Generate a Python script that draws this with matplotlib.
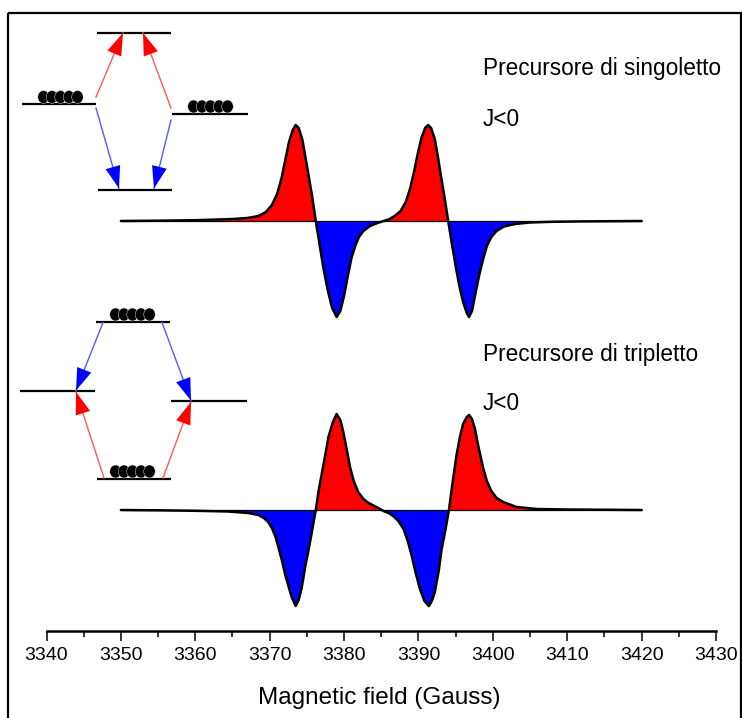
import matplotlib
matplotlib.use('Agg')
import matplotlib.pyplot as plt
from matplotlib.patches import Ellipse, Rectangle

plt.rcParams['font.family'] = ['Liberation Sans', 'DejaVu Sans']

W, H, DPI = 742, 718, 100

# ---------------- data (intensity in arbitrary units) -------------
field_top = [3350.0, 3355.0, 3360.0, 3363.0, 3365.0, 3367.0, 3368.5, 3369.5, 3370.3, 3371.0,
             3371.6, 3372.1, 3372.6, 3373.1, 3373.5, 3373.9, 3374.4, 3374.8, 3375.2, 3375.7,
             3376.2, 3376.7, 3377.2, 3377.8, 3378.4, 3379.0, 3379.5, 3380.0, 3380.5, 3381.0,
             3381.5, 3382.0, 3382.6, 3383.5, 3384.5, 3385.3, 3386.0, 3386.8, 3387.6, 3388.3,
             3388.9, 3389.4, 3389.9, 3390.4, 3390.9, 3391.3, 3391.7, 3392.2, 3392.6, 3393.0,
             3393.5, 3394.0, 3394.5, 3395.0, 3395.5, 3396.0, 3396.5, 3396.8, 3397.2, 3397.7,
             3398.2, 3398.7, 3399.2, 3399.8, 3400.5, 3401.5, 3403.0, 3405.0, 3408.0, 3412.0,
             3420.0]
int_top = [0.0, 0.3, 0.8, 1.5, 2.0, 3.0, 5.0, 9.0, 16.0, 27.0,
           43.0, 61.0, 79.0, 91.0, 96.0, 93.0, 81.0, 64.0, 47.0, 25.0,
           0.0, -23.0, -46.0, -69.0, -87.0, -96.0, -90.0, -75.0, -55.0, -37.0,
           -25.0, -16.0, -10.0, -5.0, -2.0, 0.0, 1.5, 5.0, 10.0, 19.0,
           33.0, 49.0, 67.0, 83.0, 93.0, 96.0, 93.0, 82.0, 65.0, 46.0,
           24.0, 0.0, -23.0, -45.0, -65.0, -81.0, -92.0, -96.0, -90.0, -71.0,
           -53.0, -38.0, -25.0, -16.0, -10.0, -5.5, -3.0, -1.5, -0.8, -0.4,
           0.0]

field_bot = [3350.0, 3355.0, 3360.0, 3364.4, 3367.1, 3368.5, 3369.2, 3369.8, 3370.3, 3370.8,
             3371.2, 3371.7, 3372.1, 3372.6, 3373.0, 3373.5, 3373.9, 3374.3, 3374.8, 3375.2,
             3375.5, 3376.2, 3376.6, 3377.0, 3377.5, 3377.9, 3378.5, 3379.0, 3379.5, 3379.9,
             3380.4, 3380.8, 3381.3, 3381.9, 3382.6, 3383.3, 3384.6, 3385.3, 3386.0, 3386.6,
             3387.3, 3388.0, 3388.6, 3389.1, 3389.6, 3390.2, 3390.8, 3391.4, 3391.8, 3392.2,
             3392.7, 3393.1, 3393.6, 3394.1, 3394.6, 3395.1, 3395.6, 3396.0, 3396.5, 3396.8,
             3397.2, 3397.6, 3398.1, 3398.7, 3399.2, 3399.8, 3400.5, 3401.4, 3403.2, 3405.9,
             3410.0, 3420.0]
int_bot = [0.0, -0.3, -0.8, -1.5, -3.0, -5.0, -8.0, -12.0, -18.0, -27.0,
           -38.0, -52.0, -65.0, -78.0, -88.0, -96.0, -90.0, -78.0, -56.0, -41.0,
           -29.0, 0.0, 20.0, 36.0, 56.0, 73.0, 88.0, 96.0, 90.0, 78.0,
           59.0, 43.0, 29.0, 18.0, 11.0, 7.0, 2.0, -1.0, -3.0, -6.0,
           -11.0, -19.0, -32.0, -46.0, -62.0, -79.0, -91.0, -96.0, -91.0, -82.0,
           -62.0, -40.0, -21.0, 0.0, 28.0, 54.0, 74.0, 86.0, 93.0, 95.0,
           91.0, 81.0, 62.0, 42.0, 29.0, 19.0, 12.0, 8.0, 3.0, 1.0,
           0.5, 0.0]

x_ticks = [3340, 3350, 3360, 3370, 3380, 3390, 3400, 3410, 3420, 3430]
x_minor = [3345, 3355, 3365, 3375, 3385, 3395, 3405, 3415, 3425]
x_label = "Magnetic field (Gauss)"
labels_top = ["Precursore di singoletto", "J<0"]
labels_bot = ["Precursore di tripletto", "J<0"]

# ---------------- schematic level diagrams (pixel coordinates of the picture) ----------
# levels: (x_start, x_end, y)
levels_singlet = [(97, 171, 33), (22, 96, 103.5), (172, 248, 113.5), (98, 172, 189.5)]
levels_triplet = [(96, 170, 321.5), (20, 95, 391), (171, 247, 401), (97, 171, 478.5)]
# dot groups: (first centre x, centre y)
dots_singlet = [(43.5, 97.0), (193.5, 106.5)]
dots_triplet = [(115.5, 314.5), (115.5, 471.5)]
# arrows: (x_from, y_from, x_to, y_to, colour)
arrows_singlet = [(96, 97, 123, 33, 'red'), (171, 108, 143, 33, 'red'),
                  (96, 108, 119, 188.5, 'blue'), (171, 120, 154, 188.5, 'blue')]
arrows_triplet = [(103, 322.5, 76, 390.5, 'blue'), (162, 322.5, 191, 400.5, 'blue'),
                  (104, 478, 76, 392, 'red'), (163, 478, 191, 402, 'red')]

# ---------------- figure -------------------------------------------------------------
fig = plt.figure(figsize=(W / DPI, H / DPI), dpi=DPI, facecolor='white')

ax_left_px, ax_right_px = 46.5, 716.0
ax_top_px, ax_bottom_px = 13.0, 630.7
ax = fig.add_axes([ax_left_px / W, 1 - ax_bottom_px / H,
                   (ax_right_px - ax_left_px) / W, (ax_bottom_px - ax_top_px) / H])
ax.set_xlim(3340, 3430)
ax.set_ylim(0, ax_bottom_px - ax_top_px)
ax.patch.set_alpha(0)

base_top = ax_bottom_px - 221.0
base_bot = ax_bottom_px - 510.0

for fx, iy, base in [(field_top, int_top, base_top), (field_bot, int_bot, base_bot)]:
    yv = [base + v for v in iy]
    ax.fill_between(fx, base, yv, where=[v >= 0 for v in iy], interpolate=True,
                    color='#ff0000', lw=0)
    ax.fill_between(fx, base, yv, where=[v <= 0 for v in iy], interpolate=True,
                    color='#0000ff', lw=0)
    ax.hlines(base, fx[0], fx[-1], color='black', lw=0.9)
    ax.plot(fx, yv, color='black', lw=1.8, solid_capstyle='round', solid_joinstyle='round')

for s in ['left', 'right', 'top']:
    ax.spines[s].set_visible(False)
ax.spines['bottom'].set_linewidth(1.8)
ax.set_yticks([])
ax.set_xticks(x_ticks)
ax.set_xticks(x_minor, minor=True)
ax.set_xticklabels([str(t) for t in x_ticks], fontsize=14)
ax.tick_params(axis='x', which='major', direction='out', length=7.5, width=1.1, pad=4.5)
ax.tick_params(axis='x', which='minor', direction='out', length=4, width=1.1)

fig.text((ax_left_px + ax_right_px) / 2 / W - 1.5 / W, 1 - 698 / H, x_label,
         ha='center', va='center', fontsize=17.5)

# overlay in picture pixel coordinates for the diagrams
ov = fig.add_axes([0, 0, 1, 1])
ov.set_xlim(0, W)
ov.set_ylim(H, 0)
ov.axis('off')
ov.patch.set_alpha(0)

ov.add_patch(Rectangle((8, 13), 733, 720, fill=False, lw=1.6, edgecolor='black', clip_on=False))

dot_w, dot_h, dot_step = 11.5, 13.0, 8.5
for levels, dots, arrows in [(levels_singlet, dots_singlet, arrows_singlet),
                             (levels_triplet, dots_triplet, arrows_triplet)]:
    for x0, x1, y in levels:
        ov.plot([x0, x1], [y, y], color='black', lw=1.6, solid_capstyle='butt')
    for cx, cy in dots:
        for k in range(5):
            ov.add_patch(Ellipse((cx + k * dot_step, cy), dot_w, dot_h, facecolor='black',
                                 edgecolor='white', lw=0.3, zorder=3))
    for x0, y0, x1, y1, c in arrows:
        shaft = '#ff5a5a' if c == 'red' else '#5a5aff'
        ov.plot([x0, x1], [y0, y1], color=shaft, lw=1.0)
        ov.annotate('', xy=(x1, y1), xytext=(x0, y0),
                    arrowprops=dict(arrowstyle='-|>,head_length=0.8,head_width=0.27',
                                    mutation_scale=20, color=c, lw=0.01,
                                    shrinkA=0, shrinkB=0))

fs_txt = 16.3
fig.text(483 / W, 1 - 74.5 / H, labels_top[0], ha='left', va='baseline', fontsize=fs_txt)
fig.text(483 / W, 1 - 126.5 / H, labels_top[1], ha='left', va='baseline', fontsize=fs_txt)
fig.text(483 / W, 1 - 360.5 / H, labels_bot[0], ha='left', va='baseline', fontsize=fs_txt)
fig.text(483 / W, 1 - 410.5 / H, labels_bot[1], ha='left', va='baseline', fontsize=fs_txt)

fig.savefig('out.png', dpi=DPI, facecolor='white')
